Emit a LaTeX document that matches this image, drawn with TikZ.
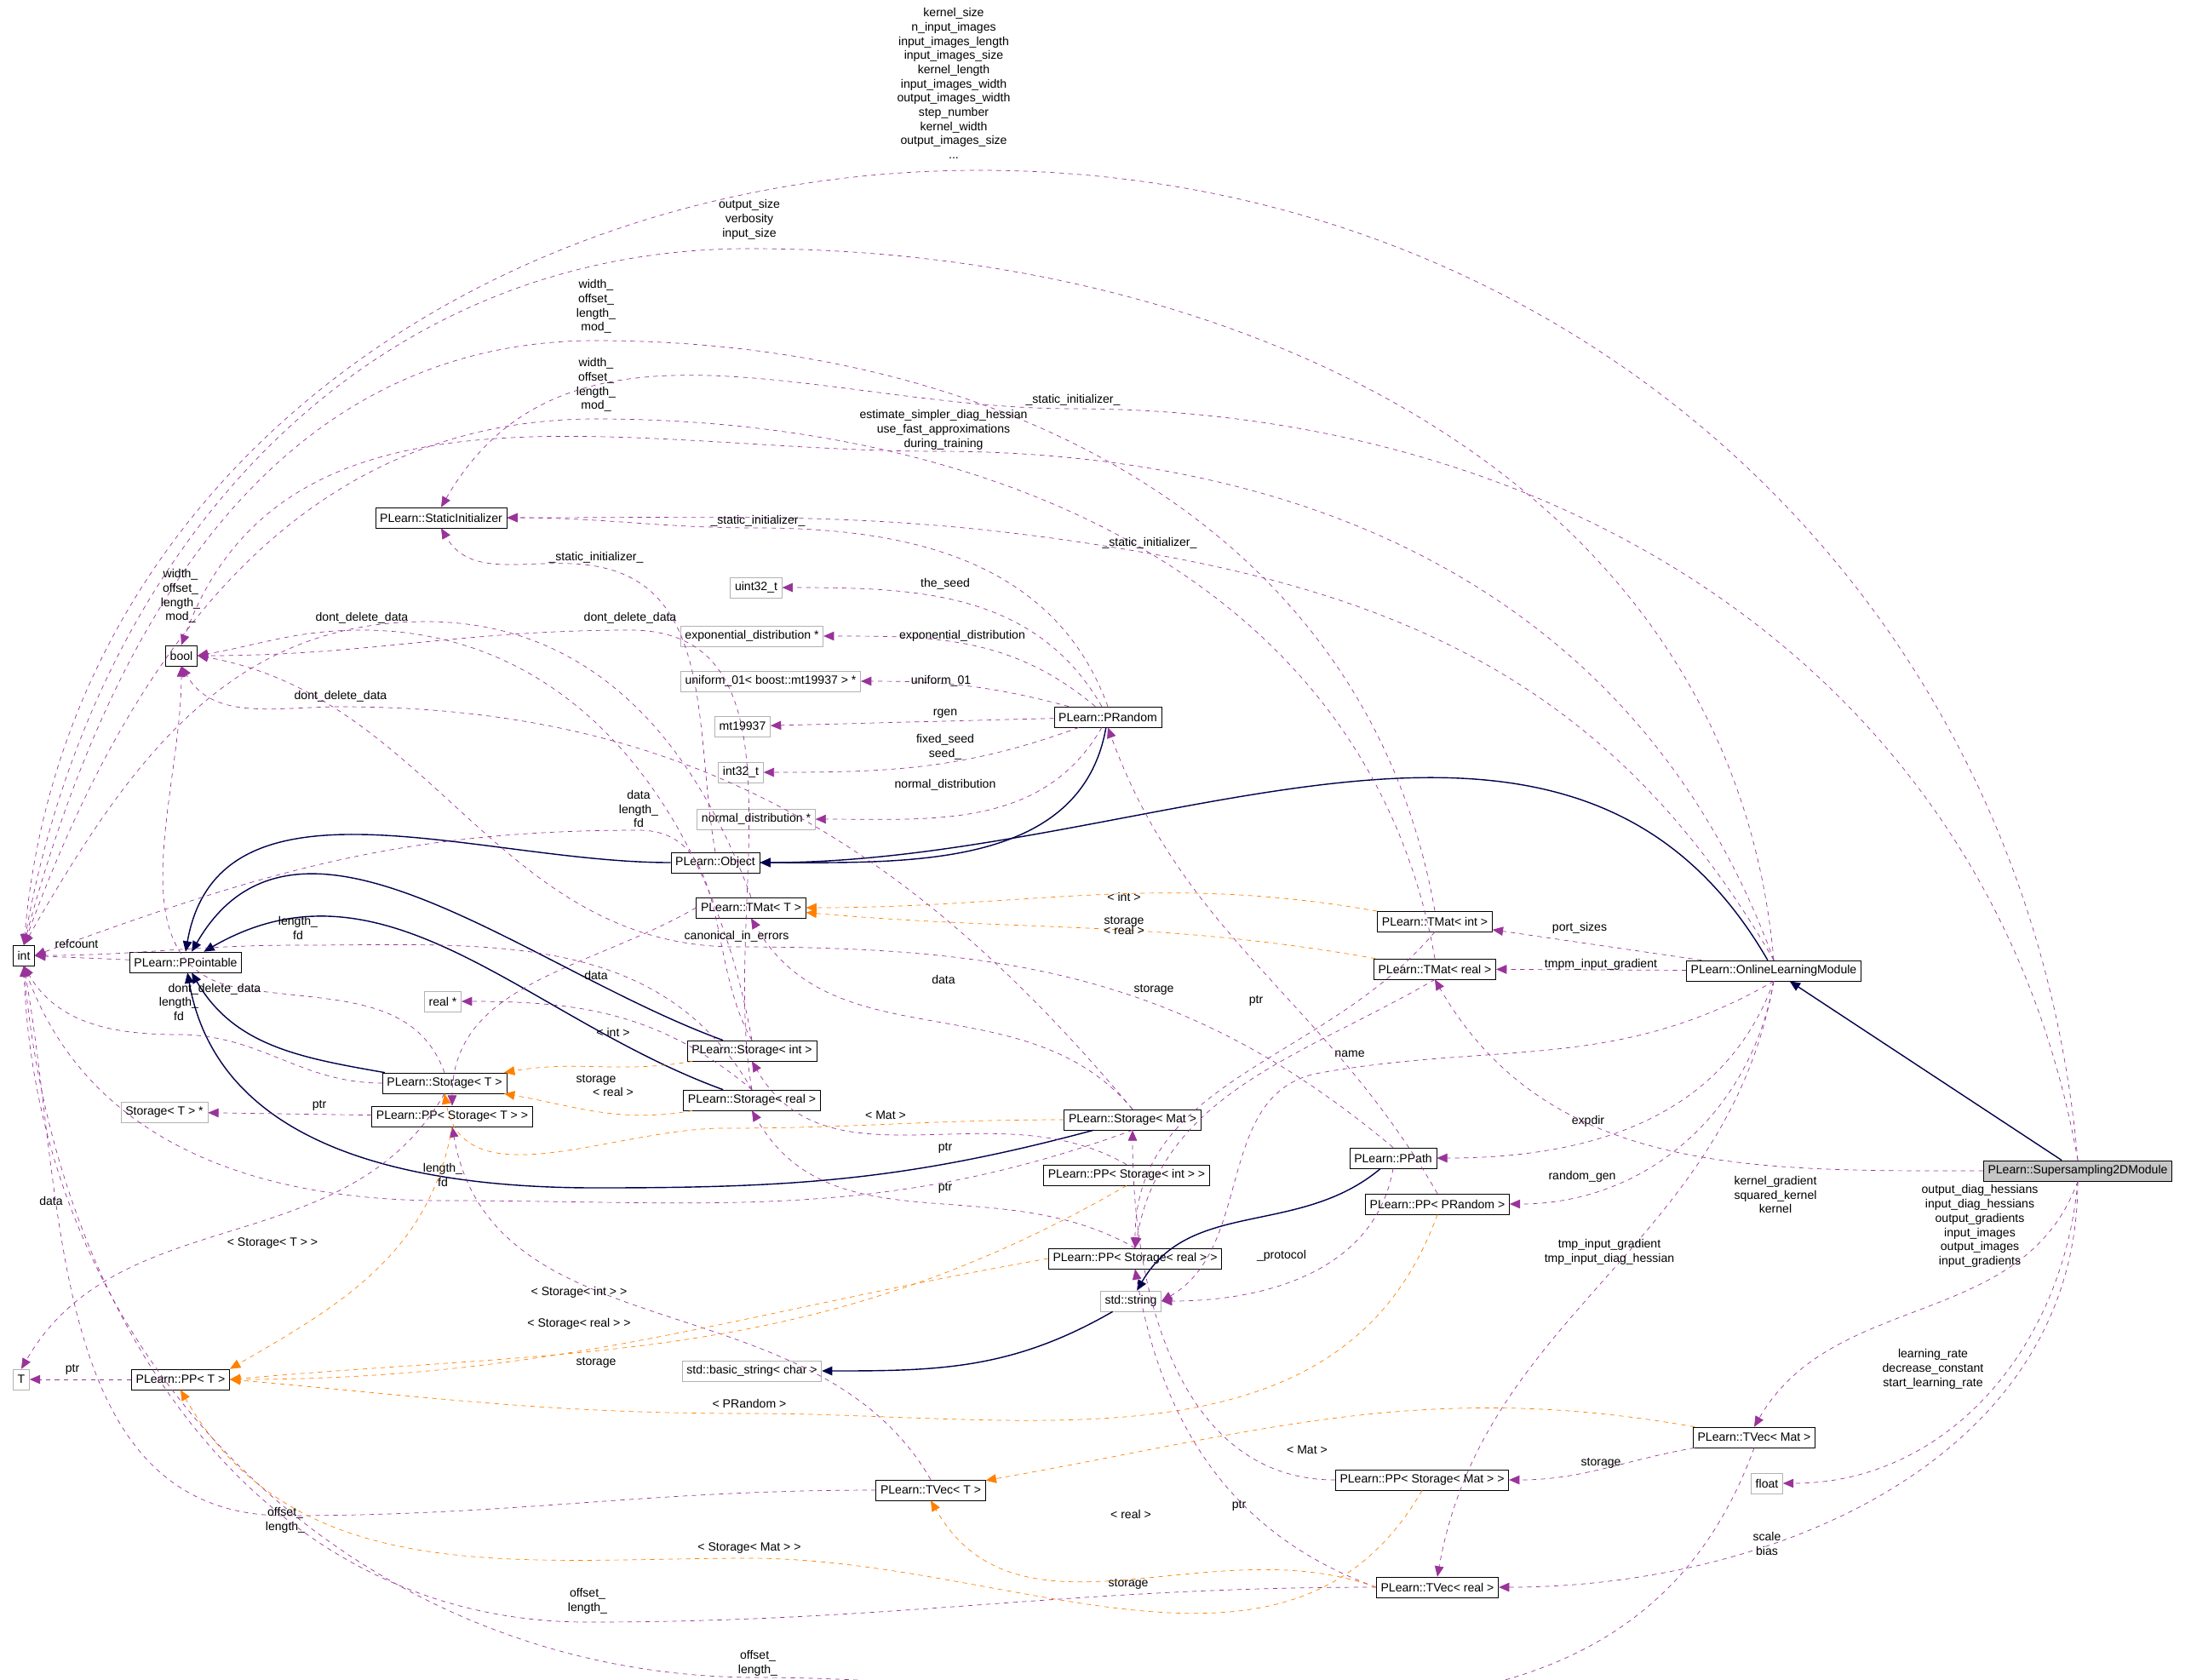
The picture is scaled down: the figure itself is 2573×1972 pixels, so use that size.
\documentclass[tikz,border=0pt]{standalone}
\usepackage{fontspec}
\setmainfont{Liberation Sans}
\usetikzlibrary{arrows.meta}
\tikzset{
  cls/.style={draw=black, fill=white, font=\fontsize{8}{9.5}\selectfont, minimum height=0.48cm, inner xsep=3pt, inner ysep=1pt},
  ext/.style={cls, draw=gray!60},
  inh/.style={draw=blue!30!black, thick, -{Triangle[open,fill=blue!30!black,length=7pt,width=6pt]}},
  use/.style={draw=violet!80!white, dashed, -{Triangle[fill=violet!80!white,length=7pt,width=6pt]}},
  tmpl/.style={draw=orange, dashed, -{Triangle[fill=orange,length=7pt,width=6pt]}},
  lbl/.style={font=\fontsize{8}{9.5}\selectfont, align=center, inner sep=0pt}
}
\begin{document}
\begin{tikzpicture}[x=0.02cm,y=-0.02cm]
\useasboundingbox (0,0) rectangle (2573,1972);

% classes
\node[cls] (int) at (28,1122) {int};
\node[ext] (T) at (25,1620) {T};
\node[cls] (bool) at (213,770) {bool};
\node[cls] (ppt) at (218,1130) {PLearn::PPointable};
\node[cls] (stat) at (518,608) {PLearn::StaticInitializer};
\node[ext] (u32) at (888,690) {uint32\_t};
\node[ext] (expd) at (883,747) {exponential\_distribution *};
\node[ext] (unif) at (905,800) {uniform\_01< boost::mt19937 > *};
\node[ext] (mt) at (872,853) {mt19937};
\node[ext] (i32) at (870,907) {int32\_t};
\node[ext] (nd) at (888,962) {normal\_distribution *};
\node[cls] (prand) at (1301,842) {PLearn::PRandom};
\node[cls] (obj) at (840,1013) {PLearn::Object};
\node[cls] (tmatT) at (882,1066) {PLearn::TMat< T >};
\node[ext] (realp) at (520,1176) {real *};
\node[cls] (stint) at (883,1234) {PLearn::Storage< int >};
\node[cls] (stT) at (522,1272) {PLearn::Storage< T >};
\node[ext] (stTp) at (193,1306) {Storage< T > *};
\node[cls] (ppstT) at (531,1311) {PLearn::PP< Storage< T > >};
\node[cls] (streal) at (883,1292) {PLearn::Storage< real >};
\node[cls] (stmat) at (1330,1315) {PLearn::Storage< Mat >};
\node[cls] (ppstint) at (1323,1380) {PLearn::PP< Storage< int > >};
\node[cls] (ppstreal) at (1333,1478) {PLearn::PP< Storage< real > >};
\node[ext] (str) at (1328,1528) {std::string};
\node[ext] (bstr) at (883,1610) {std::basic\_string< char >};
\node[cls] (ppT) at (212,1620) {PLearn::PP< T >};
\node[cls] (tvecT) at (1093,1750) {PLearn::TVec< T >};
\node[cls] (ppstmat) at (1670,1738) {PLearn::PP< Storage< Mat > >};
\node[cls] (tvecreal) at (1688,1864) {PLearn::TVec< real >};
\node[cls] (tmatint) at (1685,1082) {PLearn::TMat< int >};
\node[cls] (tmatreal) at (1685,1138) {PLearn::TMat< real >};
\node[cls] (olm) at (2083,1140) {PLearn::OnlineLearningModule};
\node[cls] (ppath) at (1636,1360) {PLearn::PPath};
\node[cls] (pprand) at (1688,1414) {PLearn::PP< PRandom >};
\node[cls] (tvecmat) at (2060,1688) {PLearn::TVec< Mat >};
\node[ext] (flt) at (2075,1742) {float};
\node[cls, fill=gray!45] (sup) at (2440,1375) {PLearn::Supersampling2DModule};

% inheritance
\draw[inh] (prand) to[out=-100,in=0] (obj);
\draw[inh] (obj) to[out=180,in=80] (ppt.north);
\draw[inh] (stint) to[out=160,in=60] (ppt);
\draw[inh] (streal) to[out=160,in=30] (ppt);
\draw[inh] (stT) to[out=170,in=-60] (ppt);
\draw[inh] (stmat) to[out=-165,in=0] (700,1395) to[out=180,in=-80] (ppt);
\draw[inh] (olm) to[out=120,in=0] (obj);
\draw[inh] (sup) -- (olm);
\draw[inh] (ppath) to[out=-140,in=60] (str);
\draw[inh] (str) to[out=-150,in=0] (bstr);

% long usage edges
\draw[use] (sup.north) to[out=95,in=0] (1150,200) to[out=180,in=85] (int.north);
\node[lbl] (l1) at (1120,98) {kernel\_size\\n\_input\_images\\input\_images\_length\\input\_images\_size\\kernel\_length\\input\_images\_width\\output\_images\_width\\step\_number\\kernel\_width\\output\_images\_size\\...};
\draw[use] (olm.north) to[out=95,in=0] (880,292) to[out=180,in=80] (int.north);
\node[lbl] (l2) at (880,258) {output\_size\\verbosity\\input\_size};
\draw[use] (tmatint.north) to[out=100,in=0] (700,400) to[out=180,in=75] (int.north);
\node[lbl] (l3) at (700,360) {width\_\\offset\_\\length\_\\mod\_};
\draw[use] (tmatreal.north) to[out=100,in=0] (700,492) to[out=180,in=70] (int.north);
\node[lbl] (l4) at (700,452) {width\_\\offset\_\\length\_\\mod\_};
\draw[use] (sup.north) to[out=100,in=0] (1260,480) to[out=180,in=60] (stat.north);
\node[lbl] (l5) at (1260,470) {\_static\_initializer\_};
\draw[use] (olm.north) to[out=110,in=0] (1100,530) to[out=180,in=70] (bool.north);
\node[lbl] (l6) at (1108,505) {estimate\_simpler\_diag\_hessian\\use\_fast\_approximations\\during\_training};
\draw[use] (olm.north) to[out=120,in=-10] (1350,650) to[out=170,in=0] (stat.east);
\node[lbl] (l7) at (1350,638) {\_static\_initializer\_};
\draw[use] (prand.north) to[out=110,in=0] (890,620) to[out=180,in=0] (stat.east);
\node[lbl] (l8) at (890,612) {\_static\_initializer\_};
\draw[use] (obj.north) to[out=100,in=-10] (700,665) to[out=170,in=-60] (stat.south);
\node[lbl] (l9) at (700,655) {\_static\_initializer\_};
\draw[use] (tmatT.north) to[out=110,in=0] (500,730) to[out=180,in=60] (int.north);
\node[lbl] (l10) at (212,700) {width\_\\offset\_\\length\_\\mod\_};

% PRandom members
\draw[use] (prand) to[out=120,in=0] (u32);
\node[lbl] (l11) at (1110,686) {the\_seed};
\draw[use] (prand) to[out=140,in=0] (expd);
\node[lbl] (l12) at (1130,747) {exponential\_distribution};
\draw[use] (prand) to[out=165,in=0] (unif);
\node[lbl] (l13) at (1105,800) {uniform\_01};
\draw[use] (prand) -- (mt);
\node[lbl] (l14) at (1110,838) {rgen};
\draw[use] (prand) to[out=-160,in=0] (i32);
\node[lbl] (l15) at (1110,877) {fixed\_seed\\seed\_};
\draw[use] (prand) to[out=-120,in=0] (nd);
\node[lbl] (l16) at (1110,922) {normal\_distribution};

% storage members
\draw[use] (stint.north) to[out=100,in=0] (425,740) to[out=180,in=10] (bool.east);
\node[lbl] (l17) at (425,726) {dont\_delete\_data};
\draw[use] (streal.north) to[out=100,in=0] (740,740) to[out=180,in=0] (bool.east);
\node[lbl] (l18) at (740,726) {dont\_delete\_data};
\draw[use] (stmat.north) to[out=130,in=0] (400,830) to[out=180,in=-60] (bool.south);
\node[lbl] (l19) at (400,818) {dont\_delete\_data};
\draw[use] (stT.north) to[out=110,in=-10] (280,1160) to[out=170,in=-90] (bool.south);
\node[lbl] (l20) at (252,1162) {dont\_delete\_data};
\draw[use] (ppath.north) to[out=140,in=0] (865,1112) to[out=180,in=-10] (bool.east);
\node[lbl] (l21) at (865,1100) {canonical\_in\_errors};
\draw[use] (stint.north) to[out=120,in=0] (750,975) to[out=180,in=20] (int.east);
\node[lbl] (l22) at (750,950) {data\\length\_\\fd};
\draw[use] (streal.north) to[out=120,in=0] (350,1110) to[out=180,in=0] (int.east);
\node[lbl] (l23) at (350,1090) {length\_\\fd};
\draw[use] (stT.west) to[out=180,in=0] (210,1215) to[out=180,in=-60] (int.south);
\node[lbl] (l24) at (210,1185) {length\_\\fd};
\draw[use] (stmat.south) to[out=-160,in=0] (520,1410) to[out=180,in=-70] (int.south);
\node[lbl] (l25) at (520,1380) {length\_\\fd};
\draw[use] (ppt) -- (int);
\node[lbl] (l26) at (90,1108) {refcount};
\draw[use] (streal.north) to[out=140,in=0] (realp);
\node[lbl] (l27) at (700,1145) {data};
\draw[use] (tmatT.west) to[out=-150,in=90] (ppstT.north);
\node[lbl] (l28) at (700,1268) {storage};
\draw[use] (stT.south) to[out=-120,in=60] (T.north);
\node[lbl] (l29) at (60,1410) {data};
\draw[use] (ppstT) -- (stTp);
\node[lbl] (l30) at (375,1298) {ptr};
\draw[use] (ppT) -- (T);
\node[lbl] (l31) at (85,1608) {ptr};
\draw[use] (ppstint.north) to[out=150,in=-60] (stint.south);
\node[lbl] (l32) at (1110,1348) {ptr};
\draw[use] (ppstreal.north) to[out=150,in=-60] (streal.south);
\node[lbl] (l33) at (1110,1395) {ptr};
\draw[use] (stmat.north) to[out=130,in=-60] (tmatT.south);
\node[lbl] (l34) at (1108,1150) {data};
\draw[use] (tmatint.south) to[out=-130,in=90] (ppstreal.north);
\node[lbl] (l35) at (1320,1082) {storage};
\draw[use] (tmatreal.south) to[out=-150,in=80] (ppstreal.north);
\node[lbl] (l36) at (1355,1162) {storage};

% module members
\draw[use] (olm) -- (tmatint);
\node[lbl] (l37) at (1855,1090) {port\_sizes};
\draw[use] (olm.south) to[out=-150,in=10] (1550,1260) to[out=190,in=30] (str.east);
\node[lbl] (l39) at (1585,1238) {name};
\draw[use] (olm) -- (tmatreal);
\node[lbl] (l38) at (1880,1133) {tmpm\_input\_gradient};
\draw[use] (olm.south) to[out=-110,in=0] (ppath);
\node[lbl] (l40) at (1865,1317) {expdir};
\draw[use] (olm.south) to[out=-100,in=0] (pprand);
\node[lbl] (l41) at (1858,1382) {random\_gen};
\draw[use] (olm.south) to[out=-100,in=80] (tvecreal.north);
\node[lbl] (l42) at (1890,1470) {tmp\_input\_gradient\\tmp\_input\_diag\_hessian};
\draw[use] (pprand.north) to[out=120,in=-70] (prand.south);
\node[lbl] (l43) at (1475,1175) {ptr};
\draw[use] (ppath.south) to[out=-100,in=0] (str.east);
\node[lbl] (l44) at (1505,1475) {\_protocol};
\draw[use] (sup.west) to[out=180,in=-60] (tmatreal.south);
\node[lbl] (l45) at (2085,1403) {kernel\_gradient\\squared\_kernel\\kernel};
\draw[use] (sup.south) to[out=-110,in=60] (tvecmat.north);
\node[lbl] (l46) at (2325,1440) {output\_diag\_hessians\\input\_diag\_hessians\\output\_gradients\\input\_images\\output\_images\\input\_gradients};
\draw[use] (sup.south) to[out=-95,in=0] (flt);
\node[lbl] (l47) at (2270,1608) {learning\_rate\\decrease\_constant\\start\_learning\_rate};
\draw[use] (sup.south) to[out=-90,in=0] (tvecreal.east);
\node[lbl] (l48) at (2075,1813) {scale\\bias};
\draw[use] (tvecmat) to[out=-170,in=0] (ppstmat);
\node[lbl] (l49) at (1880,1718) {storage};
\draw[use] (ppstmat.west) to[out=180,in=-90] (stmat.south);
\node[lbl] (l50) at (1455,1768) {ptr};
\draw[use] (tvecT.north) to[out=120,in=-80] (ppstT.south);
\node[lbl] (l51) at (700,1600) {storage};
\draw[use] (tvecT.west) to[out=180,in=0] (335,1780) to[out=180,in=-80] (int.south);
\node[lbl] (l52) at (335,1785) {offset\_\\length\_};
\draw[use] (tvecreal.west) to[out=180,in=0] (690,1905) to[out=180,in=-85] (int.south);
\node[lbl] (l53) at (690,1880) {offset\_\\length\_};
\draw[use] (tvecmat.south) to[out=-110,in=0] (890,1970) to[out=180,in=-88] (int.south);
\node[lbl] (l54) at (890,1953) {offset\_\\length\_};
\draw[use] (tvecreal.west) to[out=160,in=-80] (ppstreal.south);
\node[lbl] (l55) at (1325,1860) {storage};

% templates
\draw[tmpl] (stint) to[out=-170,in=10] (stT);
\node[lbl] (l56) at (720,1212) {< int >};
\draw[tmpl] (streal) to[out=-170,in=-10] (stT);
\node[lbl] (l57) at (720,1282) {< real >};
\draw[tmpl] (stmat.west) to[out=180,in=0] (850,1325) to[out=180,in=-80] (stT.south);
\node[lbl] (l58) at (1040,1310) {< Mat >};
\draw[tmpl] (tmatint) to[out=170,in=0] (tmatT);
\node[lbl] (l59) at (1320,1053) {< int >};
\draw[tmpl] (tmatreal) to[out=170,in=-5] (tmatT);
\node[lbl] (l60) at (1320,1092) {< real >};
\draw[tmpl] (ppstT.south) to[out=-100,in=30] (ppT.north east);
\node[lbl] (l61) at (320,1460) {< Storage< T > >};
\draw[tmpl] (ppstint.south) to[out=-150,in=5] (ppT.east);
\node[lbl] (l62) at (680,1518) {< Storage< int > >};
\draw[tmpl] (ppstreal.west) to[out=-170,in=0] (ppT.east);
\node[lbl] (l63) at (680,1555) {< Storage< real > >};
\draw[tmpl] (pprand.south) to[out=-110,in=0] (880,1660) to[out=180,in=-5] (ppT.east);
\node[lbl] (l64) at (880,1648) {< PRandom >};
\draw[tmpl] (ppstmat.south) to[out=-120,in=0] (880,1830) to[out=180,in=-60] (ppT.south);
\node[lbl] (l65) at (880,1818) {< Storage< Mat > >};
\draw[tmpl] (tvecmat) to[out=170,in=10] (tvecT);
\node[lbl] (l66) at (1535,1703) {< Mat >};
\draw[tmpl] (tvecreal.west) to[out=160,in=-60] (tvecT.south);
\node[lbl] (l67) at (1328,1778) {< real >};
\end{tikzpicture}
\end{document}
